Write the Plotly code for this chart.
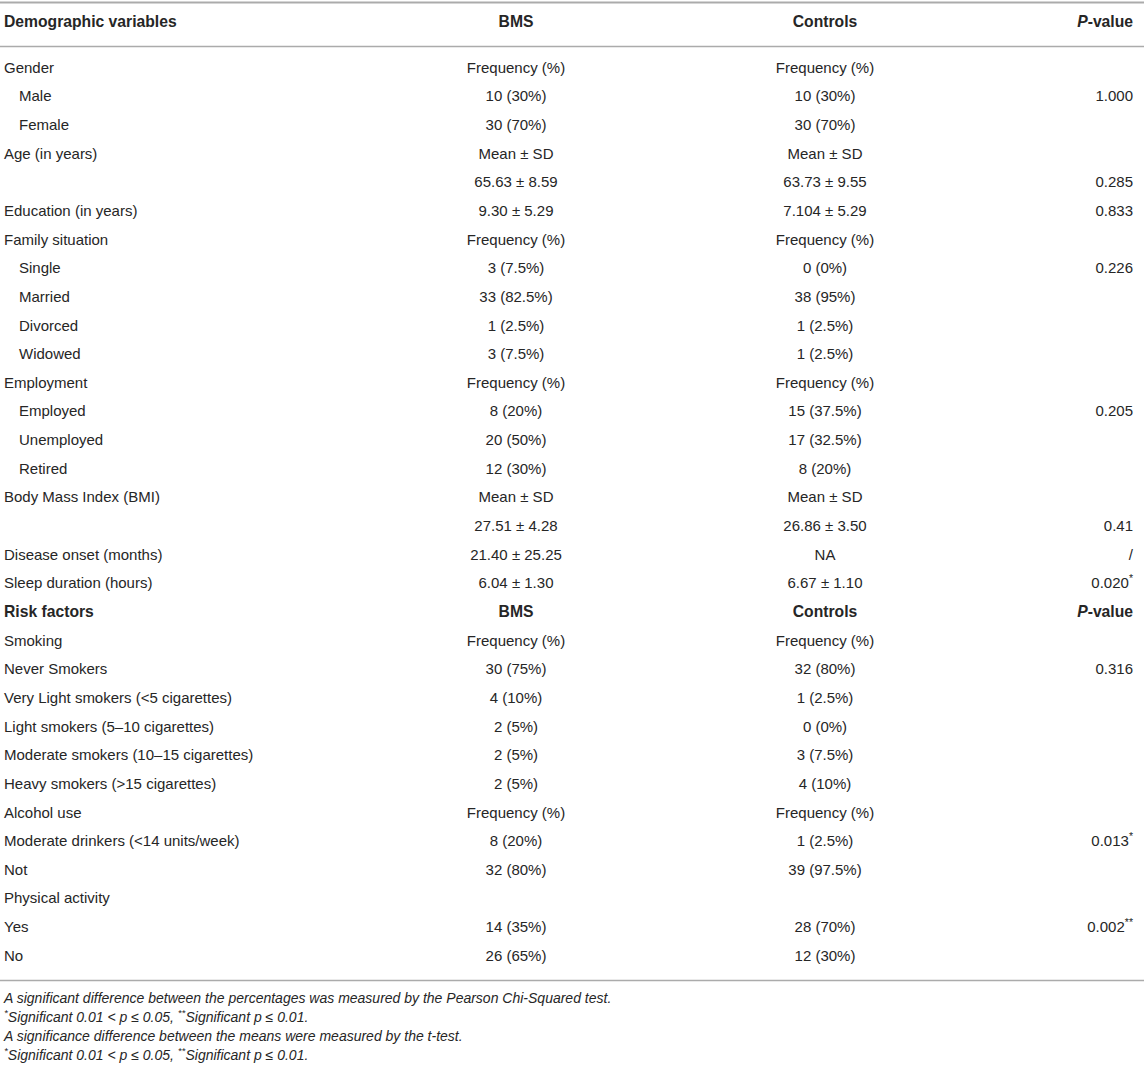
import plotly.graph_objects as go

# ---------------- data ----------------
headers = ["Demographic variables", "BMS", "Controls", "<i>P</i>-value"]

labels = [
    "Gender", "Male", "Female", "Age (in years)", "", "Education (in years)",
    "Family situation", "Single", "Married", "Divorced", "Widowed",
    "Employment", "Employed", "Unemployed", "Retired",
    "Body Mass Index (BMI)", "", "Disease onset (months)", "Sleep duration (hours)",
    "Risk factors", "Smoking", "Never Smokers", "Very Light smokers (<5 cigarettes)",
    "Light smokers (5–10 cigarettes)", "Moderate smokers (10–15 cigarettes)",
    "Heavy smokers (>15 cigarettes)", "Alcohol use", "Moderate drinkers (<14 units/week)",
    "Not", "Physical activity", "Yes", "No",
]
bms = [
    "Frequency (%)", "10 (30%)", "30 (70%)", "Mean ± SD", "65.63 ± 8.59", "9.30 ± 5.29",
    "Frequency (%)", "3 (7.5%)", "33 (82.5%)", "1 (2.5%)", "3 (7.5%)",
    "Frequency (%)", "8 (20%)", "20 (50%)", "12 (30%)",
    "Mean ± SD", "27.51 ± 4.28", "21.40 ± 25.25", "6.04 ± 1.30",
    "BMS", "Frequency (%)", "30 (75%)", "4 (10%)", "2 (5%)", "2 (5%)", "2 (5%)",
    "Frequency (%)", "8 (20%)", "32 (80%)", "", "14 (35%)", "26 (65%)",
]
controls = [
    "Frequency (%)", "10 (30%)", "30 (70%)", "Mean ± SD", "63.73 ± 9.55", "7.104 ± 5.29",
    "Frequency (%)", "0 (0%)", "38 (95%)", "1 (2.5%)", "1 (2.5%)",
    "Frequency (%)", "15 (37.5%)", "17 (32.5%)", "8 (20%)",
    "Mean ± SD", "26.86 ± 3.50", "NA", "6.67 ± 1.10",
    "Controls", "Frequency (%)", "32 (80%)", "1 (2.5%)", "0 (0%)", "3 (7.5%)", "4 (10%)",
    "Frequency (%)", "1 (2.5%)", "39 (97.5%)", "", "28 (70%)", "12 (30%)",
]
pvalues = [
    "", "1.000", "", "", "0.285", "0.833",
    "", "0.226", "", "", "",
    "", "0.205", "", "",
    "", "0.41", "/", "0.020<sup>*</sup>",
    "<i>P</i>-value", "", "0.316", "", "", "", "",
    "", "0.013<sup>*</sup>", "", "", "0.002<sup>**</sup>", "",
]
indented = ["Male", "Female", "Single", "Married", "Divorced", "Widowed",
            "Employed", "Unemployed", "Retired"]
bold_rows = ["Risk factors"]

footnotes = [
    "A significant difference between the percentages was measured by the Pearson Chi-Squared test.",
    "<sup>*</sup>Significant 0.01 < p ≤ 0.05, <sup>**</sup>Significant p ≤ 0.01.",
    "A significance difference between the means were measured by the t-test.",
    "<sup>*</sup>Significant 0.01 < p ≤ 0.05, <sup>**</sup>Significant p ≤ 0.01.",
]

# ---------------- layout constants ----------------
W, H = 1144, 1068
FONT = "Liberation Sans, Arial, Helvetica, sans-serif"
TXT = "#262626"
LINE = "#ababab"
FS = 15
FS_BOLD = 15.7
FS_FOOT = 14
HEADER_Y = 23
ROW0_Y = 69
ROW_STEP = 28.645
X_LABEL, X_INDENT = 4, 19
X_BMS, X_CTRL, X_P = 516, 825, 1133
FOOT_Y0, FOOT_STEP = 999, 19

row_y = [ROW0_Y + i * ROW_STEP for i in range(len(labels))]

fig = go.Figure()


def add_text(xs, ys, texts, pos, size, bold=False, italic=False):
    pts = [(x, y, t) for x, y, t in zip(xs, ys, texts) if t]
    if not pts:
        return
    tx = []
    for _, _, t in pts:
        if italic:
            t = f"<i>{t}</i>"
        if bold:
            t = f"<b>{t}</b>"
        tx.append(t)
    fig.add_trace(go.Scatter(
        x=[p[0] for p in pts], y=[p[1] for p in pts], mode="text", text=tx,
        textposition=pos, hoverinfo="skip",
        textfont=dict(size=size, color=TXT, family=FONT)))


# header row
add_text([X_LABEL], [HEADER_Y], [headers[0]], "middle right", FS_BOLD, bold=True)
add_text([X_BMS, X_CTRL], [HEADER_Y] * 2, headers[1:3], "middle center", FS_BOLD, bold=True)
add_text([X_P], [HEADER_Y], [headers[3]], "middle left", FS_BOLD, bold=True)

# body rows
n = len(labels)
norm = [i for i in range(n) if labels[i] not in bold_rows]
bold = [i for i in range(n) if labels[i] in bold_rows]
lab_x = [X_INDENT if l in indented else X_LABEL for l in labels]

for idx, size, b in [(norm, FS, False), (bold, FS_BOLD, True)]:
    ys = [row_y[i] for i in idx]
    add_text([lab_x[i] for i in idx], ys, [labels[i] for i in idx], "middle right", size, bold=b)
    add_text([X_BMS] * len(idx), ys, [bms[i] for i in idx], "middle center", size, bold=b)
    add_text([X_CTRL] * len(idx), ys, [controls[i] for i in idx], "middle center", size, bold=b)
    add_text([X_P] * len(idx), ys, [pvalues[i] for i in idx], "middle left", size, bold=b)

# footnotes
add_text([X_LABEL] * len(footnotes),
         [FOOT_Y0 + i * FOOT_STEP for i in range(len(footnotes))],
         footnotes, "middle right", FS_FOOT, italic=True)

# horizontal rules
for yy, w in [(2.5, 1.8), (46.5, 1.5), (980.5, 1.5)]:
    fig.add_shape(type="line", xref="x", yref="y", x0=0, x1=W, y0=yy, y1=yy,
                  line=dict(color=LINE, width=w))

fig.update_layout(
    width=W, height=H, margin=dict(l=0, r=0, t=0, b=0),
    paper_bgcolor="white", plot_bgcolor="white", showlegend=False,
    xaxis=dict(range=[0, W], visible=False, fixedrange=True),
    yaxis=dict(range=[H, 0], visible=False, fixedrange=True),
)

fig.write_html(
    "out.html",
    config={"displayModeBar": False},
    post_script="document.body.style.margin='0';document.body.style.overflow='hidden';",
)
